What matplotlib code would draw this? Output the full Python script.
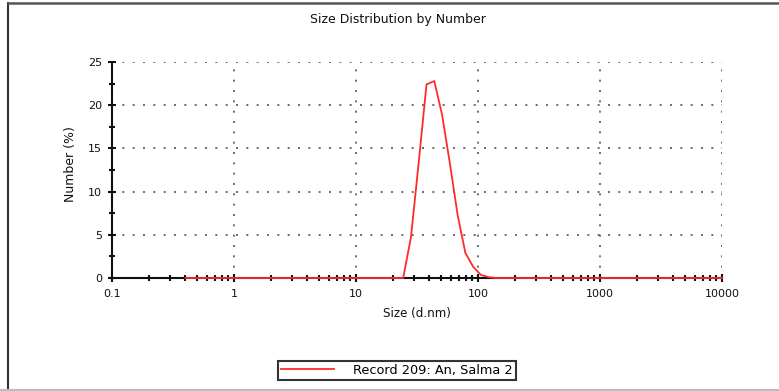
import matplotlib
matplotlib.use("Agg")
import matplotlib.pyplot as plt
from matplotlib.lines import Line2D
from matplotlib.ticker import LogLocator, FixedLocator, NullFormatter, FixedFormatter
import numpy as np

plt.rcParams['font.family'] = ['DejaVu Sans']

title = "Size Distribution by Number"
xlabel = "Size (d.nm)"
ylabel = "Number (%)"
legend_label = "Record 209: An, Salma 2"

sizes = [0.4, 0.4632, 0.5365, 0.6213, 0.7195, 0.8332, 0.9649, 1.117, 1.294, 1.499,
         1.736, 2.010, 2.328, 2.696, 3.122, 3.615, 4.187, 4.849, 5.615, 6.503,
         7.531, 8.721, 10.10, 11.70, 13.54, 15.69, 18.17, 21.04, 24.36, 28.21,
         32.67, 37.84, 43.82, 50.75, 58.77, 68.06, 78.82, 91.28, 105.7, 122.4,
         141.8, 164.2, 190.1, 220.2, 255.0, 295.3, 342.0, 396.1, 458.7, 531.2,
         615.1, 712.4, 825.0, 955.4, 1106, 1281, 1484, 1718, 1990, 2305,
         2669, 3091, 3580, 4145, 4801, 5560, 6439, 7456, 8635, 10000]
numbers = [0, 0, 0, 0, 0, 0, 0, 0, 0, 0,
           0, 0, 0, 0, 0, 0, 0, 0, 0, 0,
           0, 0, 0, 0, 0, 0, 0, 0, 0, 4.7,
           13.4, 22.4, 22.8, 18.9, 13.3, 7.3, 2.9, 1.3, 0.35, 0.1,
           0, 0, 0, 0, 0, 0, 0, 0, 0, 0,
           0, 0, 0, 0, 0, 0, 0, 0, 0, 0,
           0, 0, 0, 0, 0, 0, 0, 0, 0, 0]

x_ticks = [0.1, 1, 10, 100, 1000, 10000]
x_ticklabels = ["0.1", "1", "10", "100", "1000", "10000"]
y_ticks = [0, 5, 10, 15, 20, 25]

W, H = 779, 391
fig = plt.figure(figsize=(W / 100, H / 100), dpi=100)
ax = fig.add_axes([112 / W, (H - 278) / H, 610 / W, 216 / H])

ax.set_xscale('log')
ax.set_xlim(0.1, 10000)
ax.set_ylim(0, 25)

ax.plot(sizes, numbers, color='#ff2a2a', lw=1.3, zorder=5, clip_on=False,
        label=legend_label)

ax.xaxis.set_major_locator(FixedLocator(x_ticks))
ax.xaxis.set_major_formatter(FixedFormatter(x_ticklabels))
ax.xaxis.set_minor_locator(LogLocator(base=10, subs=np.arange(2, 10)))
ax.xaxis.set_minor_formatter(NullFormatter())
ax.yaxis.set_major_locator(FixedLocator(y_ticks))
ax.yaxis.set_minor_locator(FixedLocator([2.5, 7.5, 12.5, 17.5, 22.5]))

for s in ['top', 'right']:
    ax.spines[s].set_visible(False)
for s in ['left', 'bottom']:
    ax.spines[s].set_linewidth(1.5)
    ax.spines[s].set_color('#111111')
    ax.spines[s].set_zorder(4)

ax.tick_params(axis='both', which='major', direction='inout', length=6, width=1.5,
               color='#111111', labelsize=8, pad=4, labelcolor='#111111')
ax.tick_params(axis='both', which='minor', direction='inout', length=4, width=1.5,
               color='#111111')
ax.tick_params(axis='x', which='major', pad=5)

ax.grid(True, which='major', color='#555555', linestyle=(0, (1.2, 5.0)), lw=1.2)

fig.text(398 / W, 1 - 20 / H, title, fontsize=9, color='#111111',
         ha='center', va='center')
ax.set_xlabel(xlabel, fontsize=8.6, labelpad=6, color='#111111')
ax.set_ylabel(ylabel, fontsize=9, color='#111111')
ax.yaxis.set_label_coords(-(112 - 77) / 610, (278 - 164) / 216)

leg = fig.legend(loc='center', bbox_to_anchor=(397 / W, 1 - 370.5 / H),
                 fontsize=9.3, handlelength=4.1, handletextpad=1.5,
                 borderpad=0.25, borderaxespad=0, fancybox=False, framealpha=1)
leg.get_frame().set_edgecolor('#333333')
leg.get_frame().set_linewidth(1.5)

# outer frame of the exported figure
fig.add_artist(Line2D([7.5 / W, 7.5 / W], [0, 1 - 3 / H], transform=fig.transFigure,
                      color='#333333', lw=1.5))
fig.add_artist(Line2D([7.5 / W, 1], [1 - 3 / H, 1 - 3 / H], transform=fig.transFigure,
                      color='#555555', lw=1.8))
fig.add_artist(Line2D([0, 1], [1.5 / H, 1.5 / H], transform=fig.transFigure,
                      color='#bbbbbb', lw=1.5))

fig.savefig('out.png', dpi=100)
